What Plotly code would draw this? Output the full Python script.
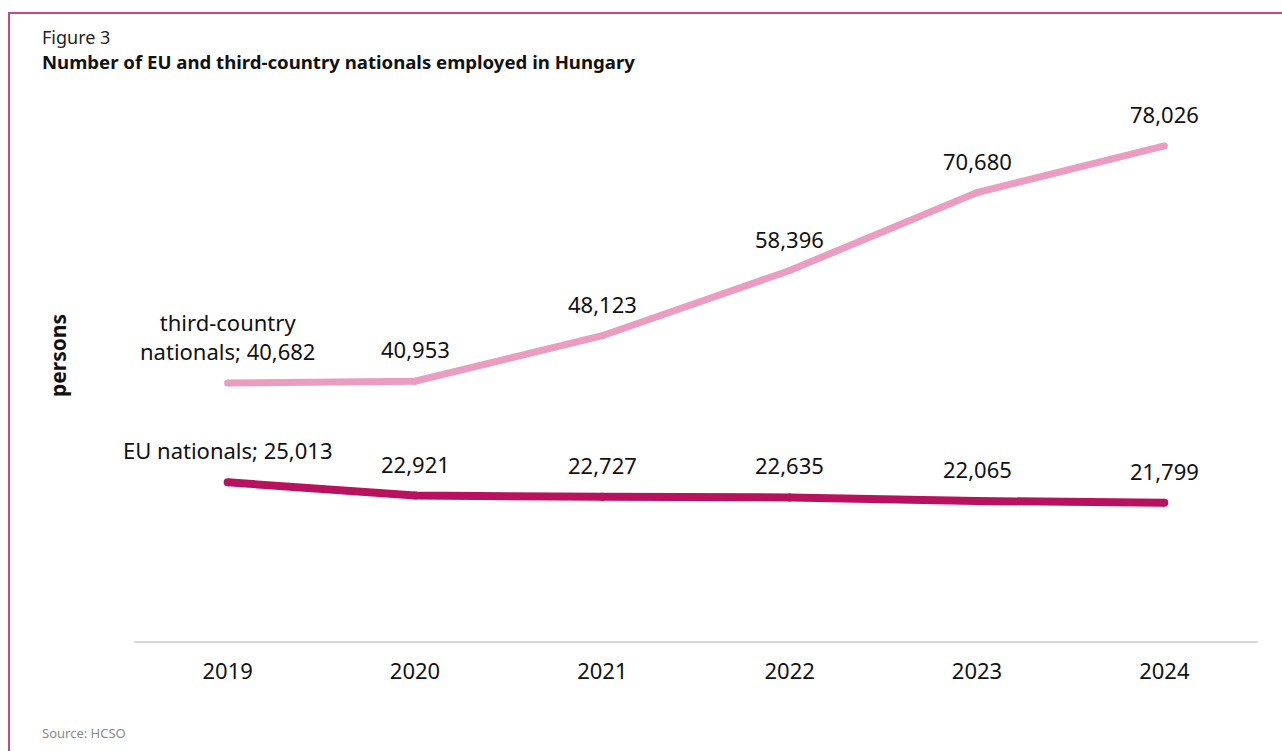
import plotly.graph_objects as go

years = [2019, 2020, 2021, 2022, 2023, 2024]
third_country = [40682, 40953, 48123, 58396, 70680, 78026]
eu_nationals = [25013, 22921, 22727, 22635, 22065, 21799]
third_name = "third-country<br>nationals"
eu_name = "EU nationals"

PINK = "#EA9DC0"
MAGENTA = "#B8125F"
FONT = "Noto Sans"

L, R, T, B = 134, 1258, 70, 641
W, H = R - L, B - T
def px(x): return (x - L) / W
def py(y): return (B - y) / H

fig = go.Figure()
fig.add_trace(go.Scatter(x=years, y=third_country, mode="lines+markers",
                         line=dict(color=PINK, width=7),
                         marker=dict(color=PINK, size=7, line=dict(width=0)),
                         name=third_name, hoverinfo="skip"))
fig.add_trace(go.Scatter(x=years, y=eu_nationals, mode="lines+markers",
                         line=dict(color=MAGENTA, width=8),
                         marker=dict(color=MAGENTA, size=8, line=dict(width=0)),
                         name=eu_name, hoverinfo="skip"))

ann = []
for series, name in ((third_country, third_name), (eu_nationals, eu_name)):
    for i, (yr, v) in enumerate(zip(years, series)):
        txt = f"{v:,}" if i else f"{name}; {v:,}"
        ann.append(dict(x=yr, y=v, xref="x", yref="y", text=txt, showarrow=False,
                        yanchor="bottom", yshift=15,
                        font=dict(family=FONT, size=22, color="#111111")))

ann += [
    dict(x=px(40), y=py(37), xref="paper", yref="paper", text="Figure 3",
         showarrow=False, xanchor="left", yanchor="middle",
         font=dict(family=FONT, size=18, color="#222222")),
    dict(x=px(40), y=py(62), xref="paper", yref="paper",
         text="<b>Number of EU and third-country nationals employed in Hungary</b>",
         showarrow=False, xanchor="left", yanchor="middle",
         font=dict(family=FONT, size=18.6, color="#111111")),
    dict(x=px(40), y=py(733), xref="paper", yref="paper", text="Source: HCSO",
         showarrow=False, xanchor="left", yanchor="middle",
         font=dict(family=FONT, size=13, color="#8a8a8a")),
]

fig.add_shape(type="rect", xref="paper", yref="paper",
              x0=px(9), x1=px(1300), y0=py(770), y1=py(13),
              line=dict(color="#C9487E", width=2), fillcolor="rgba(0,0,0,0)")

fig.update_layout(
    annotations=ann,
    width=1282, height=751,
    margin=dict(l=L, r=1282 - R, t=T, b=751 - B, autoexpand=False),
    paper_bgcolor="white", plot_bgcolor="white",
    showlegend=False, hovermode=False,
    xaxis=dict(range=[years[0] - 0.5, years[-1] + 0.5], autorange=False,
               tickmode="array", tickvals=years, ticktext=[str(y) for y in years],
               showgrid=False, showline=True, linecolor="#D9D9D9",
               linewidth=2, ticks="", ticklabelstandoff=10, zeroline=False,
               tickfont=dict(family=FONT, size=22, color="#111111")),
    yaxis=dict(range=[0, 90000], autorange=False, showgrid=False,
               showticklabels=False, zeroline=False, showline=False,
               title=dict(text="<b>persons</b>", standoff=60,
                          font=dict(family=FONT, size=21, color="#111111"))),
)

fig.write_html("out.html")
